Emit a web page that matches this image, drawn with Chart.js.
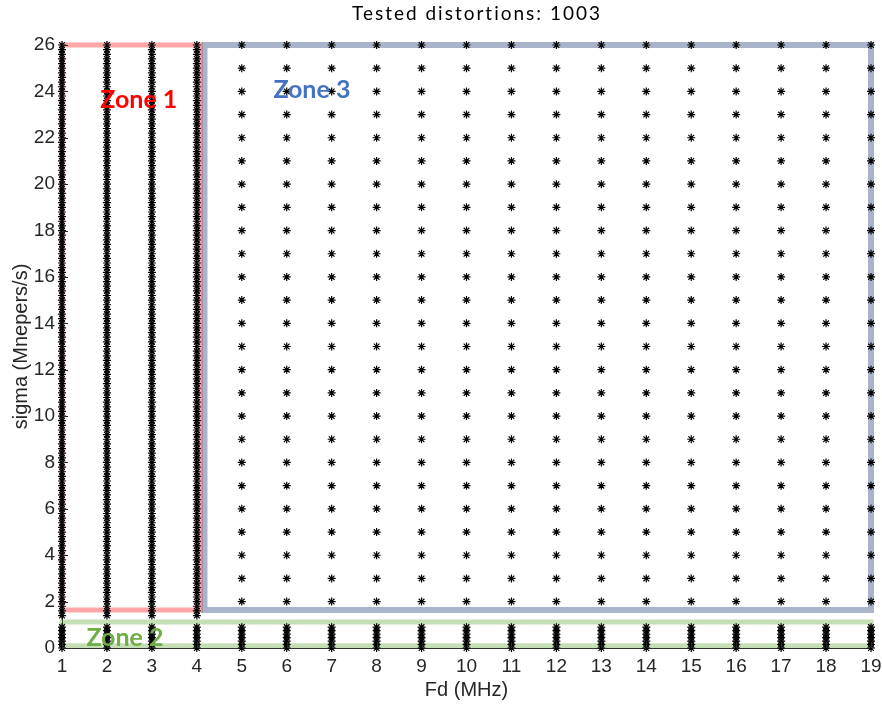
<!DOCTYPE html>
<html>
<head>
<meta charset="utf-8">
<script src="https://cdn.jsdelivr.net/npm/chart.js@4.4.1/dist/chart.umd.min.js"></script>
<style>
  html, body { margin: 0; padding: 0; background: #fff; }
  #wrap { width: 882px; height: 706px; }
</style>
</head>
<body>
<div id="wrap"><canvas id="chart" width="882" height="706"></canvas></div>
<script>
// tested grid of distortions: Fd (MHz) x sigma (Mnepers/s)
const titleText = 'Tested distortions: 1003';
const xTickValues = [1, 2, 3, 4, 5, 6, 7, 8, 9, 10, 11, 12, 13, 14, 15, 16, 17, 18, 19];
const yTickValues = [0, 2, 4, 6, 8, 10, 12, 14, 16, 18, 20, 22, 24, 26];

// zone 1 : low Fd, fine sigma steps
const zone1Cols = [1, 2, 3, 4];
const zone1Rows = [
  1.4, 1.6, 1.8, 2, 2.2, 2.4, 2.6, 2.8, 3, 3.2, 3.4, 3.6, 3.8, 4, 4.2, 4.4, 4.6, 4.8,
  5, 5.2, 5.4, 5.6, 5.8, 6, 6.2, 6.4, 6.6, 6.8, 7, 7.2, 7.4, 7.6, 7.8, 8, 8.2, 8.4,
  8.6, 8.8, 9, 9.2, 9.4, 9.6, 9.8, 10, 10.2, 10.4, 10.6, 10.8, 11, 11.2, 11.4, 11.6,
  11.8, 12, 12.2, 12.4, 12.6, 12.8, 13, 13.2, 13.4, 13.6, 13.8, 14, 14.2, 14.4, 14.6,
  14.8, 15, 15.2, 15.4, 15.6, 15.8, 16, 16.2, 16.4, 16.6, 16.8, 17, 17.2, 17.4, 17.6,
  17.8, 18, 18.2, 18.4, 18.6, 18.8, 19, 19.2, 19.4, 19.6, 19.8, 20, 20.2, 20.4, 20.6,
  20.8, 21, 21.2, 21.4, 21.6, 21.8, 22, 22.2, 22.4, 22.6, 22.8, 23, 23.2, 23.4, 23.6,
  23.8, 24, 24.2, 24.4, 24.6, 24.8, 25, 25.2, 25.4, 25.6, 25.8, 26
];
// zone 2 : every Fd, very low sigma
const zone2Cols = [1, 2, 3, 4, 5, 6, 7, 8, 9, 10, 11, 12, 13, 14, 15, 16, 17, 18, 19];
const zone2Rows = [0, 0.15, 0.3, 0.45, 0.6, 0.75, 0.9];
// zone 3 : coarse grid
const zone3Cols = [5, 6, 7, 8, 9, 10, 11, 12, 13, 14, 15, 16, 17, 18, 19];
const zone3Rows = [2, 3, 4, 5, 6, 7, 8, 9, 10, 11, 12, 13, 14, 15, 16, 17, 18, 19, 20, 21, 22, 23, 24, 25, 26];

// zone outlines (corner lists)
const zone1BoxX = [1, 1, 4.08, 4.08, 1];
const zone1BoxY = [1.64, 26, 26, 1.64, 1.64];
const zone2BoxX = [1, 1, 19, 19, 1];
const zone2BoxY = [0.1, 1.12, 1.12, 0.1, 0.1];
const zone3BoxX = [4.17, 4.17, 19, 19, 4.17];
const zone3BoxY = [1.64, 26, 26, 1.64, 1.64];

const zoneNames = ['Zone 1', 'Zone 2', 'Zone 3'];

function grid(cols, rows) {
  const pts = [];
  cols.forEach(x => rows.forEach(y => pts.push({ x, y })));
  return pts;
}

function box(xs, ys) {
  return xs.map((x, i) => ({ x, y: ys[i] }));
}

function pointSet(cols, rows) {
  return {
    data: grid(cols, rows),
    pointStyle: 'star',
    pointRadius: 4,
    pointBorderWidth: 1.2,
    pointBorderColor: '#000',
    pointBackgroundColor: '#000',
    showLine: false,
    clip: false,
    order: 0
  };
}

function boxSet(xs, ys, color, width) {
  return {
    data: box(xs, ys),
    showLine: true,
    borderColor: color,
    borderWidth: width,
    borderJoinStyle: 'miter',
    borderCapStyle: 'square',
    pointRadius: 0,
    fill: false,
    tension: 0,
    clip: false,
    order: 1
  };
}

const axisColor = '#262626';
const axisFont = '"Liberation Sans", Arial, sans-serif';

const extras = {
  id: 'extras',
  afterDraw(chart) {
    const { ctx, chartArea, scales } = chart;
    ctx.save();
    // inward ticks
    ctx.strokeStyle = axisColor;
    ctx.lineWidth = 1;
    ctx.beginPath();
    scales.y.ticks.forEach(t => {
      const py = Math.round(scales.y.getPixelForValue(t.value)) + 0.5;
      ctx.moveTo(chartArea.left, py);
      ctx.lineTo(chartArea.left + 6, py);
    });
    scales.x.ticks.forEach(t => {
      const px = Math.round(scales.x.getPixelForValue(t.value)) + 0.5;
      ctx.moveTo(px, chartArea.bottom);
      ctx.lineTo(px, chartArea.bottom - 6);
    });
    ctx.stroke();

    // zone labels
    const labels = [
      { text: zoneNames[0], color: '#ff0000', x: 2.71, y: 23.63 },
      { text: zoneNames[1], color: '#70ad47', x: 2.40, y: 0.43 },
      { text: zoneNames[2], color: '#4472c4', x: 6.56, y: 24.06 }
    ];
    ctx.font = 'bold 25px Lato, "Open Sans", sans-serif';
    ctx.textAlign = 'center';
    ctx.textBaseline = 'middle';
    labels.forEach(l => {
      ctx.fillStyle = l.color;
      ctx.fillText(l.text, scales.x.getPixelForValue(l.x), scales.y.getPixelForValue(l.y));
    });

    // title
    ctx.fillStyle = '#000';
    ctx.font = '19px Lato, "Open Sans", sans-serif';
    ctx.letterSpacing = '2px';
    ctx.textBaseline = 'alphabetic';
    ctx.fillText(titleText, 477, 20);
    ctx.restore();
  }
};

new Chart(document.getElementById('chart'), {
  type: 'scatter',
  data: {
    datasets: [
      pointSet(zone1Cols, zone1Rows),
      pointSet(zone2Cols, zone2Rows),
      pointSet(zone3Cols, zone3Rows),
      boxSet(zone3BoxX, zone3BoxY, 'rgba(83, 105, 151, 0.5)', 6),
      boxSet(zone1BoxX, zone1BoxY, 'rgba(255, 0, 0, 0.35)', 5),
      boxSet(zone2BoxX, zone2BoxY, 'rgba(112, 173, 71, 0.4)', 5)
    ]
  },
  options: {
    responsive: false,
    animation: false,
    layout: { padding: { top: 45, right: 11, left: 0, bottom: 0 } },
    plugins: {
      legend: { display: false },
      tooltip: { enabled: false },
      title: { display: false }
    },
    scales: {
      x: {
        type: 'linear',
        min: 1,
        max: 19,
        afterBuildTicks: s => { s.ticks = xTickValues.map(v => ({ value: v })); },
        afterFit: s => { s.height = 58; s.paddingLeft = 0; s.paddingRight = 0; },
        grid: { display: false, drawTicks: false },
        border: { display: true, color: axisColor, width: 1 },
        ticks: { padding: 7, color: axisColor, font: { family: axisFont, size: 19 } },
        title: {
          display: true,
          text: 'Fd (MHz)',
          color: axisColor,
          padding: { top: 0, bottom: 4 },
          font: { family: axisFont, size: 20 }
        }
      },
      y: {
        type: 'linear',
        min: 0,
        max: 26,
        afterBuildTicks: s => { s.ticks = yTickValues.map(v => ({ value: v })); },
        afterFit: s => { s.width = 62; s.paddingTop = 0; s.paddingBottom = 0; },
        grid: { display: false, drawTicks: false },
        border: { display: true, color: axisColor, width: 1 },
        ticks: { padding: 7, color: axisColor, font: { family: axisFont, size: 19 } },
        title: {
          display: true,
          text: 'sigma (Mnepers/s)',
          color: axisColor,
          padding: { top: 9, bottom: 0 },
          font: { family: axisFont, size: 20 }
        }
      }
    }
  },
  plugins: [extras]
});
</script>
</body>
</html>
